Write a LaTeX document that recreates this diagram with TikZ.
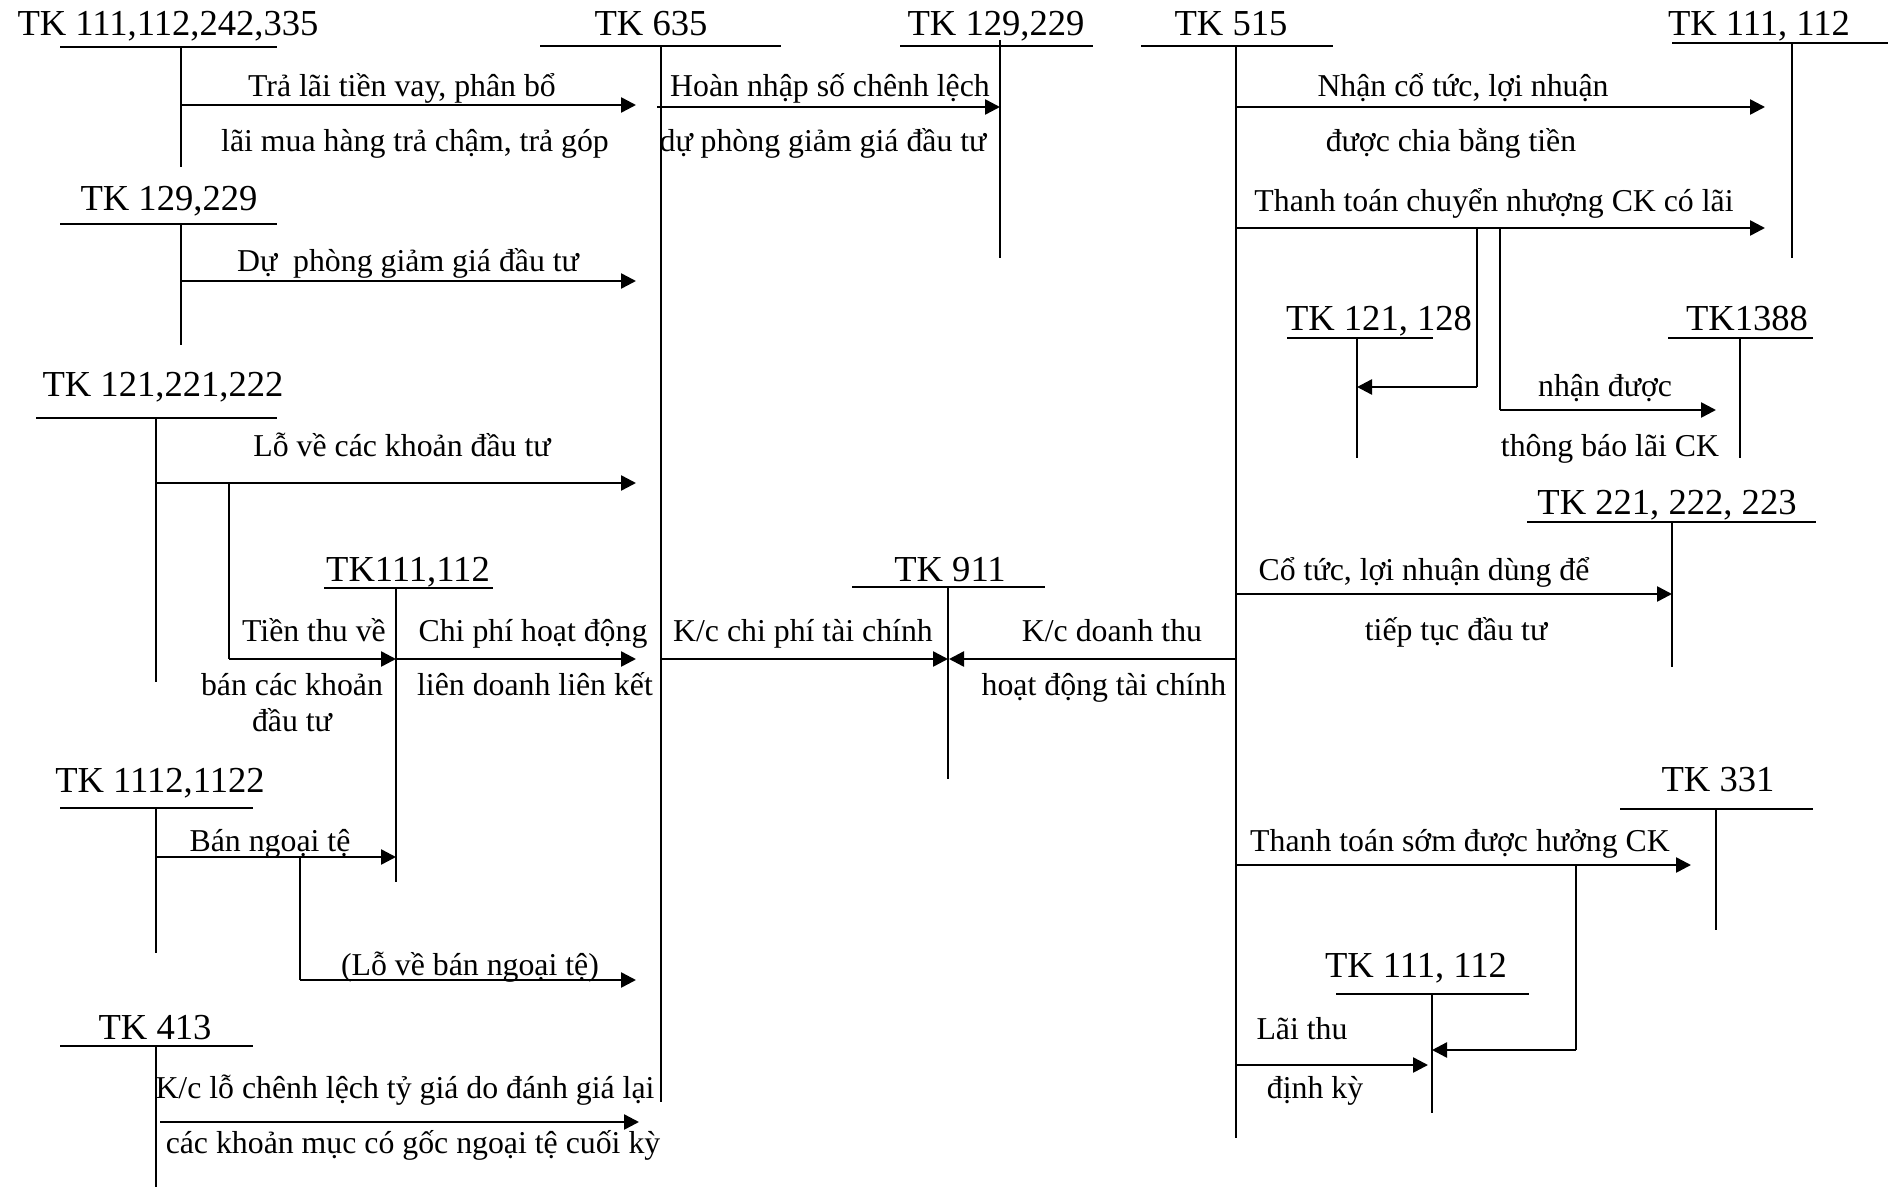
\documentclass[tikz,border=0pt]{standalone}
\usepackage{fontspec}
\setmainfont{Liberation Serif}
\usetikzlibrary{arrows.meta}
\newcommand{\tkfont}{\fontsize{18.3}{22}\selectfont}
\newcommand{\lbfont}{\fontsize{15.9}{19}\selectfont}

\begin{document}
\begin{tikzpicture}[x=0.5pt, y=-0.5pt,
	acct/.style={line width=0.9pt},
	flow/.style={line width=1.25pt, -{Triangle[length=7.5pt, width=7.5pt]}},
	tk/.style={font=\tkfont, anchor=base, inner sep=0pt},
	lb/.style={font=\lbfont, anchor=base, inner sep=0pt}]
	\useasboundingbox (0,0) rectangle (1893,1187);
	% TK 111,112,242,335
	\node[tk] (tkTraLai) at (168,36) {TK 111,112,242,335};
	\draw[acct] (60,47) -- (277,47) (181,47) -- (181,167);
	\draw[flow] (181,105) -- (636,105);
	\node[lb] (lTraLai1) at (402,97) {Trả lãi tiền vay, phân bổ};
	\node[lb] (lTraLai2) at (415,152) {lãi mua hàng trả chậm, trả góp};
	% TK 635
	\node[tk] (tk635) at (651,36) {TK 635};
	\draw[acct] (540,46) -- (781,46) (661,46) -- (661,1102);
	% TK 129,229 (hoan nhap)
	\node[tk] (tkHoanNhap) at (996,36) {TK 129,229};
	\draw[acct] (900,46) -- (1093,46) (1000,40) -- (1000,258);
	\draw[flow] (657,107) -- (1000,107);
	\node[lb] (lHoanNhap1) at (830,97) {Hoàn nhập số chênh lệch};
	\node[lb] (lHoanNhap2) at (823,152) {dự phòng giảm giá đầu tư};
	% TK 515
	\node[tk] (tk515) at (1231,36) {TK 515};
	\draw[acct] (1141,46) -- (1333,46) (1236,46) -- (1236,1138);
	% TK 111, 112 (tren)
	\node[tk] (tkTienTren) at (1759,36) {TK 111, 112};
	\draw[acct] (1672,43) -- (1888,43) (1792,43) -- (1792,258);
	\draw[flow] (1236,107) -- (1765,107);
	\node[lb] (lCoTuc1) at (1463,97) {Nhận cổ tức, lợi nhuận};
	\node[lb] (lCoTuc2) at (1451,152) {được chia bằng tiền};
	\draw[flow] (1236,228) -- (1765,228);
	\node[lb] (lChuyenNhuong) at (1494,212) {Thanh toán chuyển nhượng CK có lãi};
	% TK 121, 128 and TK1388
	\node[tk] (tk121) at (1379,331) {TK 121, 128};
	\draw[acct] (1287,338) -- (1433,338) (1357,338) -- (1357,458);
	\draw[acct] (1477,228) -- (1477,387);
	\draw[flow] (1477,387) -- (1357,387);
	\node[tk] (tk1388) at (1747,331) {TK1388};
	\draw[acct] (1668,338) -- (1813,338) (1740,338) -- (1740,458);
	\draw[acct] (1500,228) -- (1500,410);
	\draw[flow] (1500,410) -- (1716,410);
	\node[lb] (lNhanDuoc1) at (1605,396) {nhận được};
	\node[lb] (lNhanDuoc2) at (1610,456) {thông báo lãi CK};
	% TK 129,229 (du phong)
	\node[tk] (tkDuPhong) at (169,211) {TK 129,229};
	\draw[acct] (60,224) -- (277,224) (181,224) -- (181,345);
	\draw[flow] (181,281) -- (636,281);
	\node[lb] (lDuPhong) at (408,272) {Dự\ \ phòng giảm giá đầu tư};
	% TK 121,221,222
	\node[tk] (tkDauTu) at (163,396) {TK 121,221,222};
	\draw[acct] (36,418) -- (277,418) (156,418) -- (156,682);
	\draw[flow] (156,483) -- (636,483);
	\node[lb] (lLoDauTu) at (402,456) {Lỗ về các khoản đầu tư};
	\draw[acct] (229,483) -- (229,659);
	\draw[flow] (229,659) -- (396,659);
	\node[lb] (lTienThu1) at (314,641) {Tiền thu về};
	\node[lb] (lTienThu2) at (292,695) {bán các khoản};
	\node[lb] (lTienThu3) at (292,731) {đầu tư};
	% TK111,112 (giua)
	\node[tk] (tkTienGiua) at (408,581) {TK111,112};
	\draw[acct] (324,588) -- (493,588) (396,588) -- (396,882);
	\draw[flow] (396,659) -- (636,659);
	\node[lb] (lLienDoanh1) at (533,641) {Chi phí hoạt động};
	\node[lb] (lLienDoanh2) at (535,695) {liên doanh liên kết};
	% TK 911
	\node[tk] (tk911) at (950,581) {TK 911};
	\draw[acct] (852,587) -- (1045,587) (948,587) -- (948,779);
	\draw[flow] (661,659) -- (948,659);
	\draw[flow] (1236,659) -- (949,659);
	\node[lb] (lKcChiPhi) at (803,641) {K/c chi phí tài chính};
	\node[lb] (lKcDoanhThu1) at (1112,641) {K/c doanh thu};
	\node[lb] (lKcDoanhThu2) at (1104,695) {hoạt động tài chính};
	% TK 221, 222, 223
	\node[tk] (tk221) at (1667,514) {TK 221, 222, 223};
	\draw[acct] (1527,522) -- (1816,522) (1672,522) -- (1672,667);
	\draw[flow] (1236,594) -- (1672,594);
	\node[lb] (lTaiDauTu1) at (1424,580) {Cổ tức, lợi nhuận dùng để};
	\node[lb] (lTaiDauTu2) at (1456,640) {tiếp tục đầu tư};
	% TK 1112,1122
	\node[tk] (tkNgoaiTe) at (160,792) {TK 1112,1122};
	\draw[acct] (60,808) -- (253,808) (156,808) -- (156,953);
	\draw[flow] (156,857) -- (396,857);
	\node[lb] (lBanNgoaiTe) at (270,851) {Bán ngoại tệ};
	\draw[acct] (300,857) -- (300,980);
	\draw[flow] (300,980) -- (636,980);
	\node[lb] (lLoNgoaiTe) at (470,975) {(Lỗ về bán ngoại tệ)};
	% TK 413
	\node[tk] (tk413) at (155,1039) {TK 413};
	\draw[acct] (60,1046) -- (253,1046) (156,1046) -- (156,1187);
	\draw[flow] (160,1122) -- (639,1122);
	\node[lb] (lChenhLech1) at (405,1098) {K/c lỗ chênh lệch tỷ giá do đánh giá lại};
	\node[lb] (lChenhLech2) at (413,1153) {các khoản mục có gốc ngoại tệ cuối kỳ};
	% TK 331
	\node[tk] (tk331) at (1718,791) {TK 331};
	\draw[acct] (1620,809) -- (1813,809) (1716,809) -- (1716,930);
	\draw[flow] (1236,865) -- (1691,865);
	\node[lb] (lChietKhau) at (1460,851) {Thanh toán sớm được hưởng CK};
	\draw[acct] (1576,865) -- (1576,1050);
	\draw[flow] (1576,1050) -- (1432,1050);
	% TK 111, 112 (duoi)
	\node[tk] (tkTienDuoi) at (1416,977) {TK 111, 112};
	\draw[acct] (1336,994) -- (1529,994) (1432,994) -- (1432,1113);
	\draw[flow] (1236,1065) -- (1428,1065);
	\node[lb] (lLaiThu1) at (1302,1039) {Lãi thu};
	\node[lb] (lLaiThu2) at (1315,1098) {định kỳ};
\end{tikzpicture}
\end{document}
